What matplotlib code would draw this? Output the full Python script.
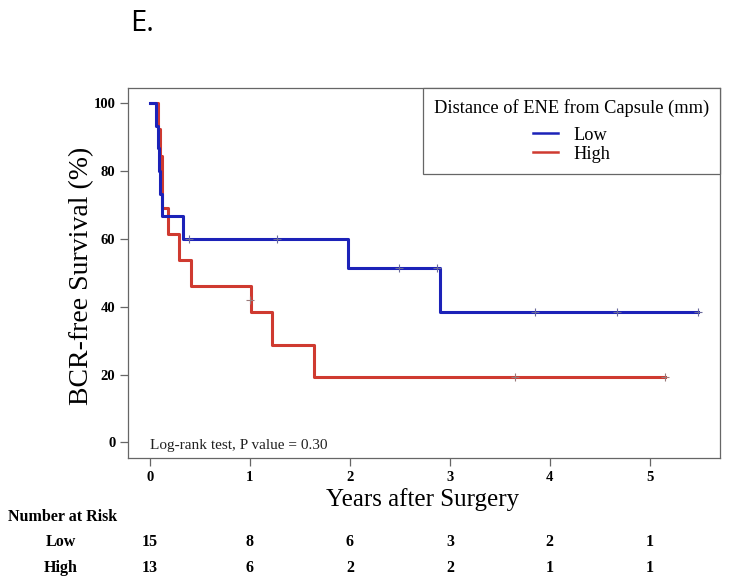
import numpy as np
import matplotlib
matplotlib.use("Agg")
import matplotlib.pyplot as plt
import matplotlib.transforms as mtransforms

# Kaplan-Meier step data (years, survival %)
low_times = [0.0, 0.06, 0.08, 0.09, 0.10, 0.12, 0.33, 1.98, 2.90, 5.48]
low_surv = [100.0, 93.3, 86.7, 80.0, 73.3, 66.7, 60.0, 51.4, 38.6, 38.6]
low_cens_t = [0.39, 1.27, 2.49, 2.87, 3.85, 4.67, 5.48]
low_cens_s = [60.0, 60.0, 51.4, 51.4, 38.6, 38.6, 38.6]

high_times = [0.01, 0.05, 0.08, 0.10, 0.12, 0.18, 0.29, 0.41, 1.01, 1.22, 1.64, 5.15]
high_surv = [100.0, 100.0, 92.3, 84.6, 69.2, 61.5, 53.8, 46.2, 38.5, 28.8, 19.2, 19.2]
high_cens_t = [1.0, 3.65, 5.15]
high_cens_s = [42.0, 19.2, 19.2]

risk_times = [0, 1, 2, 3, 4, 5]
risk_low = [15, 8, 6, 3, 2, 1]
risk_high = [13, 6, 2, 2, 1, 1]

blue = "#1c22b8"
red = "#cf3a30"
serif = "Liberation Serif"

fig = plt.figure(figsize=(7.33, 5.83), dpi=100)
ax = fig.add_axes([0.1746, 0.2144, 0.8074, 0.6346])

ax.step(low_times, low_surv, where="post", color=blue, lw=2.2, label="Low", zorder=3)
ax.step(high_times, high_surv, where="post", color=red, lw=2.2, label="High", zorder=2)
ax.plot(low_cens_t, low_cens_s, ls="none", marker="+", ms=6, mew=0.8, color="#6a6a9a", zorder=4)
ax.plot(high_cens_t, high_cens_s, ls="none", marker="+", ms=6, mew=0.8, color="#9a7a7a", zorder=4)

ax.set_xlim(-0.22, 5.7)
ax.set_ylim(-4.6, 104.5)
ax.set_xticks(risk_times)
ax.set_yticks([0, 20, 40, 60, 80, 100])
for sp in ax.spines.values():
    sp.set_color("#666666")
    sp.set_linewidth(0.9)
ax.tick_params(direction="out", length=6, width=0.9, color="#666666", pad=3)
for lab in ax.get_xticklabels() + ax.get_yticklabels():
    lab.set_fontfamily(serif)
    lab.set_fontweight("bold")
    lab.set_fontsize(10.5)

# axis titles placed by hand to match the original layout
fig.text(0.577, 0.144, "Years after Surgery", fontfamily=serif, fontsize=18,
         ha="center", va="center")
fig.text(0.112, 0.527, "BCR-free Survival (%)", fontfamily=serif, fontsize=20,
         rotation=90, ha="center", va="center")

leg = ax.legend(loc="upper right", borderaxespad=0, fancybox=False,
                title="Distance of ENE from Capsule (mm)",
                prop={"family": serif, "size": 13.2}, handlelength=1.4,
                handletextpad=0.8, labelspacing=0.12, borderpad=0.6, framealpha=1)
leg.get_title().set_fontfamily(serif)
leg.get_title().set_fontsize(13.2)
leg.get_frame().set_edgecolor("#666666")
leg.get_frame().set_linewidth(0.9)
for h in leg.get_lines():
    h.set_linewidth(1.8)
leg._legend_box.align = "center"
leg._legend_box.sep = 7

ax.text(0.0, -0.8, "Log-rank test, P value = 0.30", fontfamily=serif, fontsize=11,
        va="center", ha="left", color="#222222")

fig.text(0.177, 0.960, "E.", fontfamily="Open Sans", fontsize=21, fontweight=500,
         va="center", ha="left")

# number at risk table
trans = mtransforms.blended_transform_factory(ax.transData, fig.transFigure)
fig.text(0.011, 0.113, "Number at Risk", fontfamily=serif, fontweight="bold", fontsize=11.5,
         va="center", ha="left")
fig.text(0.083, 0.071, "Low", fontfamily=serif, fontweight="bold", fontsize=11.5,
         va="center", ha="center")
fig.text(0.083, 0.026, "High", fontfamily=serif, fontweight="bold", fontsize=11.5,
         va="center", ha="center")
for t, a, b in zip(risk_times, risk_low, risk_high):
    ax.text(t, 0.071, str(a), transform=trans, fontfamily=serif, fontweight="bold",
            fontsize=11.5, va="center", ha="center")
    ax.text(t, 0.026, str(b), transform=trans, fontfamily=serif, fontweight="bold",
            fontsize=11.5, va="center", ha="center")

fig.savefig("out.png", dpi=100)
